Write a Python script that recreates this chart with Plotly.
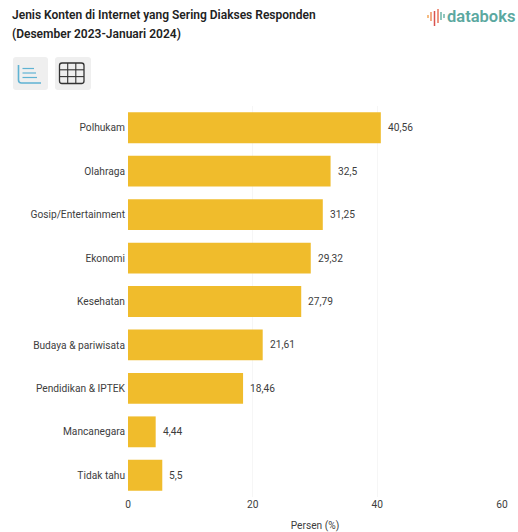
import plotly.graph_objects as go

categories = ["Polhukam", "Olahraga", "Gosip/Entertainment", "Ekonomi", "Kesehatan",
              "Budaya & pariwisata", "Pendidikan & IPTEK", "Mancanegara", "Tidak tahu"]
values = [40.56, 32.5, 31.25, 29.32, 27.79, 21.61, 18.46, 4.44, 5.5]
value_labels = ["40,56", "32,5", "31,25", "29,32", "27,79", "21,61", "18,46", "4,44", "5,5"]
x_ticks = [0, 20, 40, 60]
title_lines = ["Jenis Konten di Internet yang Sering Diakses Responden",
               "(Desember 2023-Januari 2024)"]

W, H = 518, 532
ML, MR, MT, MB = 128, 16, 106, 35
FONT = "Roboto"
BAR = "#F0BC2C"
TEXT = "#3d3d3d"
SIZE = 10.2

fig = go.Figure(go.Bar(
    x=values, y=categories, orientation="h",
    marker=dict(color=BAR, line=dict(width=0)),
    width=0.71, hoverinfo="skip",
))


# Paper coordinates are relative to the plot area, so convert from page pixels
def px(x):
    return (x - ML) / (W - ML - MR)


def py(y):
    return 1 - (y - MT) / (H - MT - MB)


shapes = []


def pt(x, y):
    return f"{px(x):.5f},{py(y):.5f}"


def rounded(x0, y0, x1, y1, r, fill, line=None, lw=0):
    path = (f"M{pt(x0 + r, y0)} L{pt(x1 - r, y0)} Q{pt(x1, y0)} {pt(x1, y0 + r)} "
            f"L{pt(x1, y1 - r)} Q{pt(x1, y1)} {pt(x1 - r, y1)} "
            f"L{pt(x0 + r, y1)} Q{pt(x0, y1)} {pt(x0, y1 - r)} "
            f"L{pt(x0, y0 + r)} Q{pt(x0, y0)} {pt(x0 + r, y0)} Z")
    shapes.append(dict(type="path", path=path, xref="paper", yref="paper", layer="above",
                       fillcolor=fill, line=dict(color=line or fill, width=lw)))


def seg(x0, y0, x1, y1, color, lw=1.2):
    shapes.append(dict(type="line", xref="paper", yref="paper", layer="above",
                       x0=px(x0), x1=px(x1), y0=py(y0), y1=py(y1),
                       line=dict(color=color, width=lw)))


# Chart / table toggle buttons
rounded(13, 57, 48, 90, 3, "#EFEFEF")
rounded(55, 57, 91, 90, 3, "#EFEFEF")
ICON_BLUE = "#5FB3D3"
shapes.append(dict(type="path", xref="paper", yref="paper", layer="above",
                   path=f"M{pt(18.5, 65)} L{pt(18.5, 80)} Q{pt(18.5, 83)} {pt(21.5, 83)} L{pt(41, 83)}",
                   fillcolor="rgba(0,0,0,0)", line=dict(color=ICON_BLUE, width=1.6)))
seg(22.5, 68.5, 34, 68.5, ICON_BLUE, 1.2)
seg(22.5, 73, 36, 73, ICON_BLUE, 1.2)
seg(22.5, 77.5, 37, 77.5, ICON_BLUE, 1.2)
GRID_DARK = "#333333"
rounded(59.5, 63, 84, 83.5, 2.5, "rgba(0,0,0,0)", GRID_DARK, 1.3)
seg(67.7, 63, 67.7, 83.5, GRID_DARK, 1.1)
seg(75.8, 63, 75.8, 83.5, GRID_DARK, 1.1)
seg(59.5, 69.8, 84, 69.8, GRID_DARK, 1.1)
seg(59.5, 76.6, 84, 76.6, GRID_DARK, 1.1)

# Logo waveform
for x, y0, y1, c in [(428, 15, 18, "#F2A65A"), (431, 12, 21, "#EE8F5F"),
                     (434.5, 11, 26, "#D9534F"), (438, 9, 23, "#E8735A"),
                     (441, 12, 20, "#6DB5A8"), (444, 14, 18, "#6DB5A8")]:
    seg(x, y0, x, y1, c, 1.5)

annotations = [
    dict(text=title_lines[0], x=px(10), y=py(15), xref="paper", yref="paper",
         xanchor="left", yanchor="middle", showarrow=False,
         font=dict(family=FONT, size=12, color="#222222", weight=600)),
    dict(text=title_lines[1], x=px(10), y=py(34), xref="paper", yref="paper",
         xanchor="left", yanchor="middle", showarrow=False,
         font=dict(family=FONT, size=12, color="#222222", weight=600)),
    dict(text="databoks", x=px(445), y=py(17), xref="paper", yref="paper",
         xanchor="left", yanchor="middle", showarrow=False,
         font=dict(family=FONT, size=16.5, color="#5BA8A0", weight=600)),
]

# Value labels sit a fixed gap past each bar end
for cat, val, lab in zip(categories, values, value_labels):
    annotations.append(dict(text=lab, x=val, y=cat, xref="x", yref="y", xanchor="left",
                            yanchor="middle", xshift=5, showarrow=False,
                            font=dict(family=FONT, size=SIZE, color=TEXT)))

fig.update_layout(
    width=W, height=H, autosize=False,
    margin=dict(l=ML, r=MR, t=MT, b=MB, pad=0, autoexpand=False),
    paper_bgcolor="white", plot_bgcolor="white",
    showlegend=False, shapes=shapes, annotations=annotations,
    font=dict(family=FONT, size=SIZE, color=TEXT),
    xaxis=dict(range=[0, 60], tickvals=x_ticks, ticks="", showline=False, zeroline=False,
               showgrid=True, gridcolor="#F6F6F6", gridwidth=1, automargin=False,
               title=dict(text="Persen (%)", standoff=13, font=dict(family=FONT, size=SIZE, color=TEXT)),
               tickfont=dict(family=FONT, size=SIZE, color=TEXT)),
    yaxis=dict(autorange="reversed", showgrid=False, zeroline=False, showline=False,
               ticks="", ticklabelstandoff=2, automargin=False,
               tickfont=dict(family=FONT, size=SIZE, color=TEXT)),
)

fig.write_html("out.html", config=dict(displayModeBar=False))
